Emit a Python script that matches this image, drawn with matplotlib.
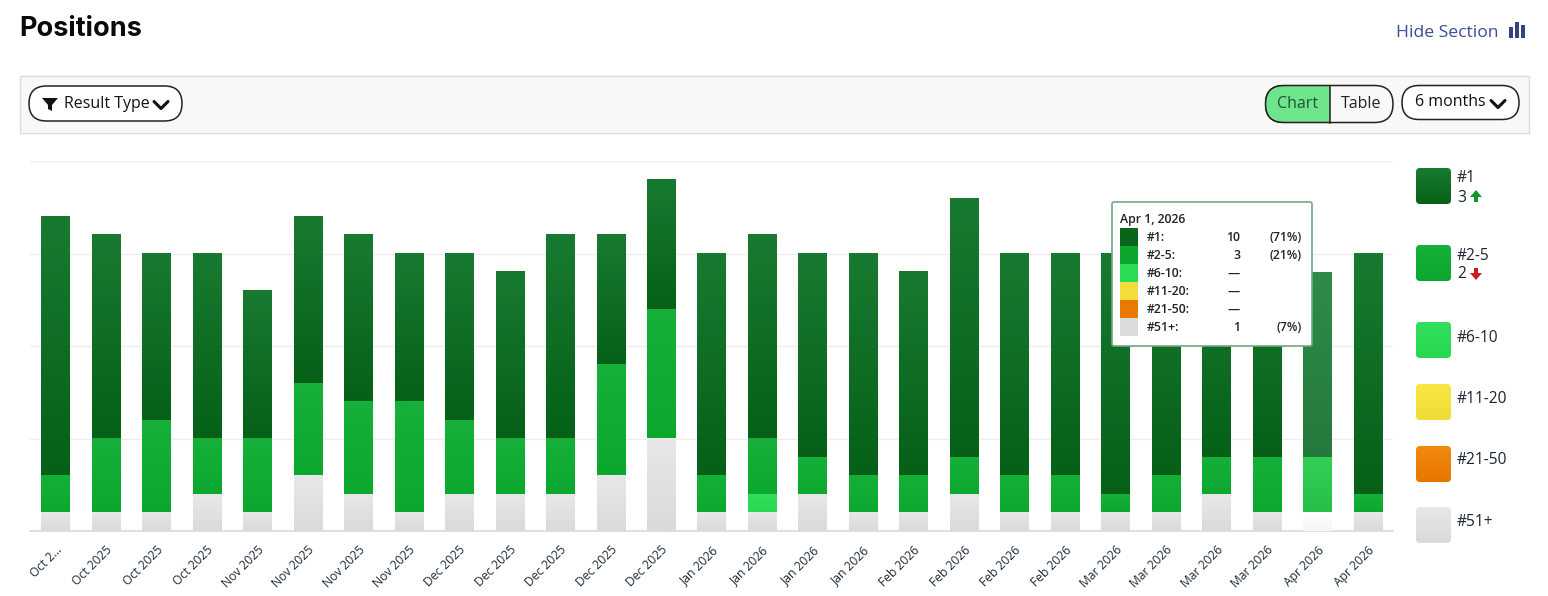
import numpy as np
import matplotlib
matplotlib.use('Agg')
import matplotlib.pyplot as plt
from matplotlib.patches import Rectangle, FancyBboxPatch, Polygon

plt.rcParams['font.family'] = ['Open Sans', 'DejaVu Sans']

# chart data
months = ['Oct 2…', 'Oct 2025', 'Oct 2025', 'Oct 2025', 'Nov 2025', 'Nov 2025', 'Nov 2025', 'Nov 2025',
          'Dec 2025', 'Dec 2025', 'Dec 2025', 'Dec 2025', 'Dec 2025', 'Jan 2026', 'Jan 2026', 'Jan 2026',
          'Jan 2026', 'Feb 2026', 'Feb 2026', 'Feb 2026', 'Feb 2026', 'Mar 2026', 'Mar 2026', 'Mar 2026',
          'Mar 2026', 'Apr 2026', 'Apr 2026']
pos_1 = [14, 11, 9, 10, 8, 9, 9, 8, 9, 9, 11, 7, 7, 12, 11, 11, 12, 11, 14, 12, 12, 13, 12, 11, 11, 10, 13]
pos_2_5 = [2, 4, 5, 3, 4, 5, 5, 6, 4, 3, 3, 6, 7, 2, 3, 2, 2, 2, 2, 2, 2, 1, 2, 2, 3, 3, 1]
pos_6_10 = [0, 0, 0, 0, 0, 0, 0, 0, 0, 0, 0, 0, 0, 0, 1, 0, 0, 0, 0, 0, 0, 0, 0, 0, 0, 0, 0]
pos_11_20 = [0] * 27
pos_21_50 = [0] * 27
pos_51 = [1, 1, 1, 2, 1, 3, 2, 1, 2, 2, 2, 3, 5, 1, 1, 2, 1, 1, 2, 1, 1, 1, 1, 2, 1, 1, 1]

# legend and tooltip
legend_names = ['#1', '#2-5', '#6-10', '#11-20', '#21-50', '#51+']
legend_y = [168, 245, 322, 384, 446, 507]
tip_names = ['#1:', '#2-5:', '#6-10:', '#11-20:', '#21-50:', '#51+:']
tip_values = ['10', '3', '—', '—', '—', '1']
tip_pcts = ['(71%)', '(21%)', '', '', '', '(7%)']
tip_colors = ['#08661c', '#0ca82e', '#2bdc55', '#f2de3a', '#e87a02', '#dcdcdc']

grads = {
    '#1': ('#187a30', '#066018'),
    '#2-5': ('#16b03a', '#0ca82e'),
    '#6-10': ('#30e05a', '#28d850'),
    '#11-20': ('#fbe744', '#f0dc36'),
    '#21-50': ('#f28a10', '#e67600'),
    '#51+': ('#e8e8e8', '#dadada'),
}
# the hovered column is washed out
faded = {
    '#1': ('#2e8c48', '#247a3c'),
    '#2-5': ('#33cf55', '#28bf48'),
    '#51+': ('#ffffff', '#f5f5f5'),
}


def gradient(c1, c2):
    a = np.array(matplotlib.colors.to_rgb(c1))
    b = np.array(matplotlib.colors.to_rgb(c2))
    t = np.linspace(0, 1, 64)[:, None]
    return (a + (b - a) * t)[:, None, :]


W, H = 1548, 596
fig = plt.figure(figsize=(W / 100, H / 100), dpi=100, facecolor='white')

ax = fig.add_axes([30 / W, (H - 531) / H, 1363 / W, 370 / H])
x = np.arange(len(months))
stack = [('#51+', pos_51), ('#21-50', pos_21_50), ('#11-20', pos_11_20), ('#6-10', pos_6_10),
         ('#2-5', pos_2_5), ('#1', pos_1)]
bottom = np.zeros(len(months))
for name, vals in stack:
    bars = ax.bar(x, vals, 0.555, bottom=bottom, color=tip_colors[legend_names.index(name)], zorder=2)
    for i, b in enumerate(bars):
        if vals[i] == 0:
            continue
        c1, c2 = faded[name] if i == 25 else grads[name]
        ax.imshow(gradient(c1, c2), extent=(b.get_x(), b.get_x() + b.get_width(), b.get_y(), b.get_y() + b.get_height()),
                  aspect='auto', zorder=3, interpolation='bilinear')
    bottom += np.array(vals)

ax.set_xlim(-0.5, 26.5)
ax.set_ylim(0, 20)
ax.set_yticks([5, 10, 15, 20])
ax.set_yticklabels([])
ax.grid(axis='y', color='#eeeeee', lw=1, zorder=0)
ax.set_axisbelow(True)
for s in ['top', 'left', 'right']:
    ax.spines[s].set_visible(False)
ax.spines['bottom'].set_color('#d5d9e8')
ax.spines['bottom'].set_linewidth(1.2)
ax.tick_params(axis='y', length=0)
ax.tick_params(axis='x', length=0, pad=9)
ax.set_xticks(x)
ax.set_xticklabels(months, rotation=45, ha='right', rotation_mode='anchor', fontsize=8.7, color='#1c2b3a')

# page furniture, in pixels
ui = fig.add_axes([0, 0, 1, 1], zorder=5)
ui.set_axis_off()
ui.patch.set_alpha(0)


def pill(x0, y0, x1, y1, fc='white', ec='#222222', r=None, lw=1.1):
    r = (y1 - y0) / 2 if r is None else r
    p = FancyBboxPatch((x0 + r, y0 + r), x1 - x0 - 2 * r, y1 - y0 - 2 * r, boxstyle='round,pad=%f,rounding_size=%f' % (r, r),
                       fc=fc, ec=ec, lw=lw)
    ui.add_patch(p)
    return p


def chevron(cx, cy):
    ui.plot([cx - 7, cx, cx + 7], [cy - 3.5, cy + 3.5, cy - 3.5], color='#111111', lw=2.2, solid_capstyle='round')


ui.text(19, 29, 'Positions', fontsize=19.5, fontweight='bold', family=['Inter', 'DejaVu Sans'], color='#0a0a0a', va='center')
ui.text(1396, 33, 'Hide Section', fontsize=12.6, color='#3c4a96', va='center')
for bx, bt, bw in [(1509, 27, 4), (1515, 22, 4), (1521, 25, 4)]:
    ui.add_patch(Rectangle((bx, bt), bw, 38 - bt, fc='#36427f', ec='none'))

ui.add_patch(Rectangle((19.5, 75.5), 1509, 57, fc='#f8f8f8', ec='#dddddd', lw=1))
pill(29, 86, 182, 121)
ui.add_patch(Polygon([(42, 98), (58, 98), (52, 105), (52, 111), (48, 109), (48, 105)], fc='#111111', ec='none'))
ui.text(64, 103.5, 'Result Type', fontsize=11.5, color='#111111', va='center')
chevron(161, 105)

left = pill(1265.5, 85.5, 1393, 122.5, fc='#f8f8f8')
green = pill(1265.5, 85.5, 1393, 122.5, fc='#6ee58a')
clip = Rectangle((1265, 85), 64.5, 38, transform=ui.transData)
green.set_clip_path(clip)
ui.plot([1329.5, 1329.5], [85.5, 122.5], color='#222222', lw=1.1)
ui.text(1297.5, 103.5, 'Chart', fontsize=11.5, color='#24513a', ha='center', va='center')
ui.text(1361, 103.5, 'Table', fontsize=11.5, color='#222222', ha='center', va='center')
pill(1402, 85.5, 1519, 119.5)
ui.text(1415, 101.5, '6 months', fontsize=11.5, color='#111111', va='center')
chevron(1498, 104)


def grad_swatch(x0, y0, w, h, c1, c2):
    im = ui.imshow(gradient(c1, c2), extent=(x0, x0 + w, y0 + h, y0), aspect='auto', zorder=2, interpolation='bilinear')
    p = FancyBboxPatch((x0 + 4, y0 + 4), w - 8, h - 8, boxstyle='round,pad=4,rounding_size=4', fc='none', ec='none',
                       transform=ui.transData)
    ui.add_patch(p)
    im.set_clip_path(p)


for name, y in zip(legend_names, legend_y):
    grad_swatch(1416, y, 35, 36, *grads[name])

label_y = [178, 256, 338, 399, 460, 522]
for name, y in zip(legend_names, label_y):
    ui.text(1457, y, name, fontsize=11.2, color='#1c2433', va='center')
ui.text(1457, 198, '3', fontsize=11.2, color='#1c2433', va='center')
ui.text(1457, 274, '2', fontsize=11.2, color='#1c2433', va='center')
ui.add_patch(Polygon([(1470, 197), (1476, 190), (1482, 197), (1478, 197), (1478, 202), (1474, 202), (1474, 197)], fc='#0c9a30', ec='none'))
ui.add_patch(Polygon([(1470, 273), (1476, 280), (1482, 273), (1478, 273), (1478, 268), (1474, 268), (1474, 273)], fc='#c81e1e', ec='none'))

# tooltip
ui.add_patch(FancyBboxPatch((1114, 204), 196, 140, boxstyle='round,pad=2,rounding_size=2', fc='white', ec='#6fa97f', lw=1.2, zorder=6))
ui.text(1120, 219.5, 'Apr 1, 2026', fontsize=8.8, fontweight='semibold', color='#222222', va='center', zorder=7)
for i in range(6):
    y = 228 + 18 * i
    ui.add_patch(Rectangle((1120, y), 18, 18, fc=tip_colors[i], ec='none', zorder=7))
    ui.text(1147, y + 9.5, tip_names[i], fontsize=8.8, fontweight='semibold', color='#222222', va='center', zorder=7)
    ui.text(1240, y + 9.5, tip_values[i], fontsize=8.8, fontweight='semibold', color='#222222', ha='right', va='center', zorder=7)
    ui.text(1302, y + 9.5, tip_pcts[i], fontsize=8.8, fontweight='semibold', color='#222222', ha='right', va='center', zorder=7)

ui.set_xlim(0, W)
ui.set_ylim(H, 0)

fig.savefig('out.png', dpi=100, facecolor='white')
